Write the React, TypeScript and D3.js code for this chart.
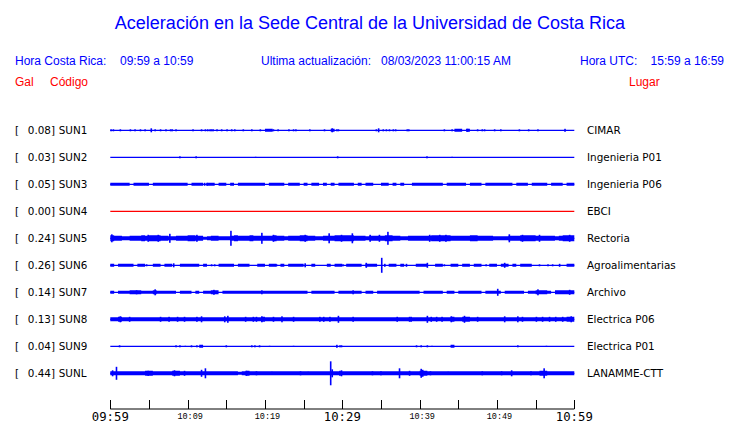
import React from "react";
import * as d3 from "d3";

// ---------- DATA ----------
const TITLE = "Aceleración en la Sede Central de la Universidad de Costa Rica";
const HEADER_LEFT = ["Hora Costa Rica:", "09:59 a 10:59"];
const HEADER_MID = ["Ultima actualización:", "08/03/2023 11:00:15 AM"];
const HEADER_RIGHT = ["Hora UTC:", "15:59 a 16:59"];
const COL_HEADERS = ["Gal", "Código", "Lugar"];

const STATIONS = ["SUN1", "SUN2", "SUN3", "SUN4", "SUN5", "SUN6", "SUN7", "SUN8", "SUN9", "SUNL"];
const MAX_GAL = ["0.08", "0.03", "0.05", "0.00", "0.24", "0.26", "0.14", "0.13", "0.04", "0.44"];
const PLACES = ["CIMAR", "Ingenieria P01", "Ingenieria P06", "EBCI", "Rectoria", "Agroalimentarias", "Archivo", "Electrica P06", "Electrica P01", "LANAMME-CTT"];

// time axis (minutes after 09:59)
const TICK_MINUTES = [0, 5, 10, 15, 20, 25, 30, 35, 40, 45, 50, 55, 60];
const TICK_LABELS = ["09:59", "", "10:09", "", "10:19", "", "10:29", "", "10:39", "", "10:49", "", "10:59"];
const TICK_MAJOR = [true, false, false, false, false, false, true, false, false, false, false, false, true];

// envelope of continuous noise, one code per 0.5 min (amplitude code * AMP_STEP gal)
const AMP_STEP = 0.018;
const BIN_MIN = 0.5;
const BANDS = [
  "0000000000 0000000000 0000000000 0000000000 3300000000 0000000300 0000000000 0000000000 0000000003 3030000000 0000000000 0000000000",
  "0000000000 0000000000 0000000000 0000000000 0000000000 0000000000 0000000000 0000000000 0000000000 0000000000 0000000000 0000000000",
  "3333303333 0333333333 0333033033 0303333333 0333303330 3033030303 3330303300 3303030033 3333330333 3303330333 3333033303 3330333033",
  "0000000000 0000000000 0000000000 0000000000 0000000000 0000000000 0000000000 0000000000 0000000000 0000000000 0000000000 0000000000",
  "6554455565 6665544555 6655345544 4565556555 5565545556 6554455566 6665554555 5665544555 5556666655 5556655554 4445556666 5555545666",
  "3033330330 0330330033 3330300033 3303330033 0330303333 0030003033 0333303330 0033030003 3300330033 0330330033 0330303330 0000000033",
  "3033344433 3433333033 3030334403 3333333333 3333333333 3033333303 3333303303 3333333333 0333330330 3333330333 3033333033 4443044444",
  "4454444444 4444444444 4444444444 4444444445 4444444444 4444444444 4444444444 4444444444 4444444454 4554444444 4444444444 4444444455",
  "0000000000 0000000000 0003000000 0000000000 0000000000 0000000000 0000000000 0000000000 0000000030 0000000000 0000000000 0000000000",
  "4444444445 5444445544 4444444444 4443454444 4444444444 4444444444 4444444444 4444444444 5544444444 4444444444 4444444444 4554444444",
];

// short bursts: [minute, amplitude code]
const SPIKES: number[][][] = [
  [[0.1,2],[0.4,2],[1.3,2],[2.6,2],[3.2,2],[3.9,2],[4.5,2],[5.3,4],[5.8,2],[6.5,2],[7.2,2],[7.8,2],[8.0,2],[8.5,2],[10.7,2],[11.8,2],[12.3,2],[12.6,2],[12.9,2],[13.1,2],[13.3,2],[13.8,2],[14.4,2],[15.1,2],[15.7,2],[16.1,2],[17.2,2],[18.3,2],[19.4,2],[21.1,2],[21.7,2],[23.1,2],[23.7,2],[24.0,2],[25.8,2],[27.7,2],[28.7,4],[29.3,2],[29.5,2],[34.4,2],[34.7,4],[35.3,2],[35.7,2],[36.1,2],[36.6,2],[36.9,2],[38.4,2],[38.6,2],[43.2,2],[44.2,2],[46.2,3],[47.5,2],[48.1,2],[48.4,2],[49.7,2],[50.5,2],[52.9,2],[54.1,2],[55.3,2],[58.8,3]],
  [[9.0,2],[11.1,2],[18.8,1],[29.4,2],[40.95,2],[44.2,1]],
  [[12.2,3],[12.5,3]],
  [],
  [[0.2,8],[4.9,7],[6.2,7],[7.7,9],[11.2,7],[15.6,15],[19.6,11],[21.1,7],[25.2,7],[28.3,10],[29.9,7],[31.3,10],[33.6,7],[34.8,7],[35.9,13],[41.3,7],[42.6,7],[43.4,7],[51.6,8],[53.3,7],[55.5,7],[59.4,7]],
  [[4.7,2],[8.2,4],[13.1,2],[13.5,2],[21.5,2],[25.2,4],[30.1,2],[33.1,5],[35.1,15],[35.5,3],[38.3,3],[41.0,5],[43.2,2],[48.6,2],[51.0,5],[55.5,2],[56.6,2],[57.2,2],[58.1,3]],
  [[3.4,4],[5.8,6],[13.4,5],[19.6,4],[31.4,4],[50.1,7],[55.3,6],[59.4,5]],
  [[1.3,6],[2.5,5],[6.5,5],[7.6,5],[8.7,5],[9.6,5],[11.2,5],[11.8,6],[14.8,6],[15.2,7],[17.5,5],[18.5,5],[18.9,5],[19.6,6],[21.1,5],[22.2,6],[23.7,5],[27.1,5],[27.6,5],[28.4,5],[29.5,7],[31.4,5],[37.1,5],[38.7,5],[38.9,5],[41.0,7],[41.5,5],[42.2,5],[42.9,5],[44.1,6],[45.8,7],[47.5,5],[51.0,6],[52.7,6],[53.3,5],[55.1,5],[55.9,5],[56.8,5],[57.6,5],[58.5,5],[59.6,6]],
  [[1.2,2],[8.5,2],[9.0,2],[9.7,1],[10.5,2],[11.2,2],[15.0,2],[18.3,2],[18.7,2],[19.3,2],[20.6,1],[23.7,1],[29.3,3],[29.7,2],[29.9,2],[39.6,2],[40.2,2],[41.0,2],[41.6,1],[52.7,2],[56.4,1]],
  [[0.3,6],[0.8,13],[4.9,5],[8.3,6],[9.6,5],[11.8,7],[12.3,10],[17.6,5],[18.9,4],[20.9,3],[24.6,4],[25.6,3],[28.5,24],[28.7,8],[29.7,5],[29.9,6],[33.9,4],[35.0,4],[37.4,10],[38.7,5],[40.2,9],[40.4,7],[41.4,4],[43.7,3],[48.1,4],[50.6,4],[51.9,6],[54.4,4],[56.1,10]],
];
const TRACE_COLORS = ["#0000ff", "#0000ff", "#0000ff", "#ff0000", "#0000ff", "#0000ff", "#0000ff", "#0000ff", "#0000ff", "#0000ff"];

// ---------- CHART ----------
const W = 740;
const H = 423;
const BLUE = "#0000ff";
const RED = "#ff0000";
const SANS = "'Liberation Sans', Arial, sans-serif";
const DEJAVU = "'DejaVu Sans', sans-serif";

export default function App() {
  const x = d3.scaleLinear().domain([0, 60]).range([110.3, 574.3]);
  const amp = d3.scaleLinear().domain([0, 0.44]).range([0, 12.2]);
  const rowY = d3.scalePoint<string>().domain(STATIONS).range([130.3, 373.3]).padding(0);

  const traces = STATIONS.map((st, i) => {
    const base = rowY(st) as number;
    const codes = BANDS[i].replace(/\s/g, "").split("").map((c) => parseInt(c, 36));
    const pts = codes.map((c, k) => ({ t: k * BIN_MIN, a: c * AMP_STEP }));
    pts.push({ t: 60, a: pts[pts.length - 1].a });
    const area = d3
      .area<{ t: number; a: number }>()
      .curve(d3.curveStepAfter)
      .x((d) => x(d.t))
      .y0((d) => base + amp(d.a))
      .y1((d) => base - amp(d.a));
    const color = TRACE_COLORS[i];
    return (
      <g key={st}>
        <line x1={x(0)} x2={x(60)} y1={base} y2={base} stroke={color} strokeWidth={1.2} />
        <path d={area(pts) || ""} fill={color} />
        {SPIKES[i].map(([m, c], k) => {
          const h = amp(c * AMP_STEP);
          return <rect key={k} x={x(m) - 0.8} width={1.6} y={base - h} height={2 * h} fill={color} />;
        })}
        <text x={15} y={base + 3.7} fontFamily={DEJAVU} fontSize={10.4} fill="#000">[</text>
        <text x={55} y={base + 3.7} fontFamily={DEJAVU} fontSize={10.4} fill="#000" textAnchor="end">{MAX_GAL[i]}]</text>
        <text x={58.7} y={base + 3.7} fontFamily={DEJAVU} fontSize={10.4} fill="#000">{st}</text>
        <text x={587} y={base + 3.7} fontFamily={DEJAVU} fontSize={10.4} fill="#000">{PLACES[i]}</text>
      </g>
    );
  });

  const axisY = 409;
  return (
    <svg width={W} height={H} style={{ position: "absolute", left: 0, top: 0, background: "#fff" }}>
      <rect x={0} y={0} width={W} height={H} fill="#fff" />
      <text x={W / 2} y={29} textAnchor="middle" fontFamily={SANS} fontSize={18} fill={BLUE}>{TITLE}</text>

      <text x={15} y={65} fontFamily={SANS} fontSize={12} fill={BLUE}>{HEADER_LEFT[0]}</text>
      <text x={120} y={65} fontFamily={SANS} fontSize={12} fill={BLUE}>{HEADER_LEFT[1]}</text>
      <text x={261} y={65} fontFamily={SANS} fontSize={12} fill={BLUE}>{HEADER_MID[0]}</text>
      <text x={381} y={65} fontFamily={SANS} fontSize={12} fill={BLUE}>{HEADER_MID[1]}</text>
      <text x={580} y={65} fontFamily={SANS} fontSize={12} fill={BLUE}>{HEADER_RIGHT[0]}</text>
      <text x={724} y={65} textAnchor="end" fontFamily={SANS} fontSize={12} fill={BLUE}>{HEADER_RIGHT[1]}</text>

      <text x={15} y={86} fontFamily={SANS} fontSize={12} fill={RED}>{COL_HEADERS[0]}</text>
      <text x={50} y={86} fontFamily={SANS} fontSize={12} fill={RED}>{COL_HEADERS[1]}</text>
      <text x={629} y={86} fontFamily={SANS} fontSize={12} fill={RED}>{COL_HEADERS[2]}</text>

      {traces}

      <line x1={x(0)} x2={x(60)} y1={axisY} y2={axisY} stroke="#000" strokeWidth={1} />
      {TICK_MINUTES.map((m, k) => (
        <g key={m}>
          <line x1={Math.round(x(m)) + 0.5} x2={Math.round(x(m)) + 0.5} y1={400} y2={axisY} stroke="#000" strokeWidth={1} />
          {TICK_LABELS[k] !== "" &&
            (TICK_MAJOR[k] ? (
              <text x={x(m)} y={421} textAnchor="middle" fontFamily="'DejaVu Sans Mono', monospace" fontSize={12.3} fill="#000">
                {TICK_LABELS[k]}
              </text>
            ) : (
              <text x={x(m) + 2.5} y={419} textAnchor="middle" fontFamily="'Liberation Mono', monospace" fontSize={8.5} fill="#000">
                {TICK_LABELS[k]}
              </text>
            ))}
        </g>
      ))}
    </svg>
  );
}
